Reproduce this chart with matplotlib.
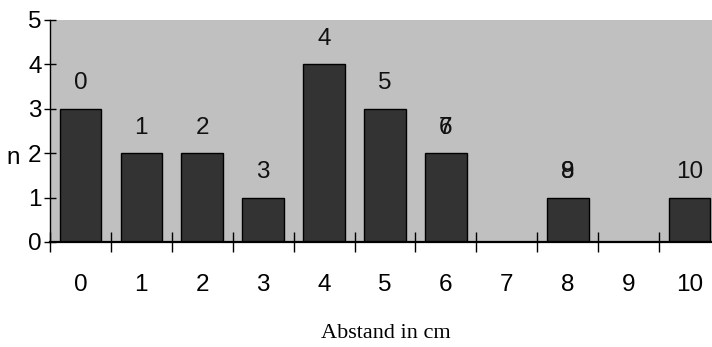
import matplotlib
matplotlib.use("Agg")
import matplotlib.pyplot as plt
import numpy as np

plt.rcParams['font.family'] = ['Liberation Sans', 'DejaVu Sans']

# Abstand (cm) and count n
categories = [0, 1, 2, 3, 4, 5, 6, 7, 8, 9, 10]
counts = [3, 2, 2, 1, 4, 3, 2, 0, 1, 0, 1]
# value labels as the original drew them (7 and 9 land on bars 6 and 8)
label_text = ['0', '1', '2', '3', '4', '5', '6', '7', '8', '9', '10']
label_x = [0, 1, 2, 3, 4, 5, 6, 6, 8, 8, 10]

fig = plt.figure(figsize=(7.12, 3.47), dpi=100)
ax = fig.add_axes([50 / 712, 105 / 347, 670 / 712, 222 / 347])
ax.set_facecolor('#c0c0c0')

x = np.arange(len(categories))
ax.bar(x, counts, width=0.685, color='#333333', edgecolor='black', linewidth=1, zorder=2)

for xi, txt in zip(label_x, label_text):
    ax.annotate(txt, xy=(xi, counts[xi]), xytext=(0, 14), textcoords='offset points',
                ha='center', va='baseline', fontsize=17.5, color='#111111', zorder=3)

ax.set_xlim(-0.5, 10.5)
ax.set_ylim(0, 5)
ax.set_yticks(range(6))
ax.set_xticks(np.arange(-0.5, 10.5, 1))
ax.set_xticklabels([])
ax.set_xticks(x, minor=True)
ax.set_xticklabels([str(c) for c in categories], minor=True)
ax.tick_params(axis='x', which='major', direction='inout', length=14, width=1, color='black')
ax.tick_params(axis='x', which='minor', length=0, pad=23, labelsize=17.5)
ax.tick_params(axis='y', direction='inout', length=8, width=1, labelsize=17.5, pad=2)

for s in ['top', 'right']:
    ax.spines[s].set_visible(False)
ax.spines['left'].set_linewidth(1)
ax.spines['bottom'].set_linewidth(1.6)
ax.spines['left'].set_zorder(4)
ax.spines['bottom'].set_zorder(4)

fig.text(6 / 712, 1 - 158 / 347, 'n', fontsize=17.5, va='center', ha='left')
fig.text(386 / 712, 1 - 334 / 347, 'Abstand in cm', fontsize=16, va='center', ha='center',
         family='Liberation Serif')

fig.savefig('out.png', dpi=100)
